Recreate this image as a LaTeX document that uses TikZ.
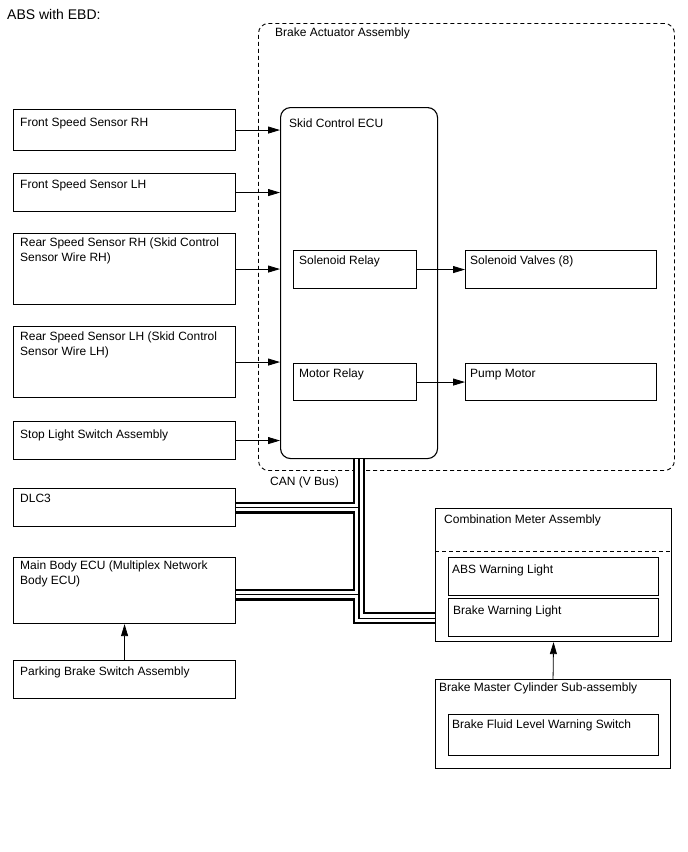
\documentclass[tikz,border=0pt]{standalone}
\usepackage{fontspec}
\setmainfont{Liberation Sans}
\usetikzlibrary{arrows.meta,positioning,calc}

\begin{document}
\begin{tikzpicture}[x=1pt, y=-1pt, every node/.style={font=\fontsize{12}{15}\selectfont},
  blk/.style={draw, line width=1.1pt, anchor=north west, inner sep=0pt},
  txt/.style={anchor=north west, inner sep=0pt, align=left},
  sig/.style={line width=0.8pt, -{Triangle[length=12pt,width=7pt]}},
  busout/.style={line width=12pt, line join=miter},
  buswhite/.style={line width=7.5pt, white, line join=miter},
  buscore/.style={line width=1.2pt, line join=miter}]
  \useasboundingbox (0,0) rectangle (688,852);

  \node[txt, font=\fontsize{14}{16}\selectfont] (title) at (7,9) {ABS with EBD:};

  % actuator assembly
  \node[blk, line width=0.9pt, dash pattern=on 4pt off 3pt, rounded corners=10pt,
        minimum width=416pt, minimum height=447pt,
        label={[txt,xshift=17pt,yshift=-5pt]north west:Brake Actuator Assembly}] (act) at (258,23) {};
  \node[blk, rounded corners=10pt, minimum width=157pt, minimum height=351pt,
        label={[txt,xshift=9pt,yshift=-12pt]north west:Skid Control ECU}] (ecu) at (280,107) {};
  \node[blk, minimum width=123pt, minimum height=38pt,
        label={[txt,xshift=6pt,yshift=-6pt]north west:Solenoid Relay}] (srl) at (293,250) {};
  \node[blk, minimum width=123pt, minimum height=37pt,
        label={[txt,xshift=6pt,yshift=-6pt]north west:Motor Relay}] (mrl) at (293,363) {};
  \node[blk, minimum width=191pt, minimum height=38pt,
        label={[txt,xshift=5pt,yshift=-6pt]north west:Solenoid Valves (8)}] (sv) at (465,250) {};
  \node[blk, minimum width=191pt, minimum height=37pt,
        label={[txt,xshift=5pt,yshift=-6pt]north west:Pump Motor}] (pm) at (465,363) {};

  % inputs
  \node[blk, minimum width=222pt, minimum height=41pt,
        label={[txt,xshift=7pt,yshift=-9pt]north west:Front Speed Sensor RH}] (frs) at (13,109) {};
  \node[blk, minimum width=222pt, minimum height=38pt,
        label={[txt,xshift=7pt,yshift=-7pt]north west:Front Speed Sensor LH}] (fls) at (13,173) {};
  \node[blk, minimum width=222pt, minimum height=71pt,
        label={[txt,xshift=7pt,yshift=-5pt]north west:Rear Speed Sensor RH (Skid Control\\Sensor Wire RH)}] (rrs) at (13,233) {};
  \node[blk, minimum width=222pt, minimum height=71pt,
        label={[txt,xshift=7pt,yshift=-6pt]north west:Rear Speed Sensor LH (Skid Control\\Sensor Wire LH)}] (rls) at (13,326) {};
  \node[blk, minimum width=222pt, minimum height=38pt,
        label={[txt,xshift=7pt,yshift=-9pt]north west:Stop Light Switch Assembly}] (stp) at (13,421) {};
  \node[blk, minimum width=222pt, minimum height=38pt,
        label={[txt,xshift=7pt,yshift=-6pt]north west:DLC3}] (dlc) at (13,488) {};
  \node[blk, minimum width=222pt, minimum height=66pt,
        label={[txt,xshift=7pt,yshift=-4pt]north west:Main Body ECU (Multiplex Network\\Body ECU)}] (mbe) at (13,557) {};
  \node[blk, minimum width=222pt, minimum height=38pt,
        label={[txt,xshift=7pt,yshift=-7pt]north west:Parking Brake Switch Assembly}] (pbs) at (13,660) {};

  % meter and master cylinder
  \node[blk, minimum width=236pt, minimum height=133pt,
        label={[txt,xshift=9pt,yshift=-7pt]north west:Combination Meter Assembly}] (cma) at (435,508) {};
  \node[blk, minimum width=210pt, minimum height=38pt,
        label={[txt,xshift=4pt,yshift=-8pt]north west:ABS Warning Light}] (abs) at (448,557) {};
  \node[blk, minimum width=210pt, minimum height=38pt,
        label={[txt,xshift=5pt,yshift=-8pt]north west:Brake Warning Light}] (bwl) at (448,598) {};
  \node[blk, minimum width=235pt, minimum height=89pt,
        label={[txt,xshift=4pt,yshift=-4pt]north west:Brake Master Cylinder Sub-assembly}] (bmc) at (435,679) {};
  \node[blk, minimum width=210pt, minimum height=41pt,
        label={[txt,xshift=4pt,yshift=-6pt]north west:Brake Fluid Level Warning Switch}] (bfl) at (448,714) {};
  \draw[line width=0.9pt, dash pattern=on 4pt off 3pt]
    ($(cma.north west)+(0,43)$) -- ($(cma.north east)+(0,43)$);

  % CAN bus
  \coordinate (canbend) at ($(ecu.south)+(0,159)$);
  \coordinate (mbebus) at ([yshift=-4pt]mbe.east);
  \foreach \st in {busout,buswhite,buscore}
    \draw[\st] (ecu.south) -- (canbend) -- (canbend -| cma.west)
               (dlc.east) -- (dlc.east -| ecu.south)
               (mbebus) -- (mbebus -| ecu.south);
  \node[txt] (canlbl) at (270,476.5) {CAN (V Bus)};

  % signal lines
  \foreach \n in {frs,fls,rrs,rls,stp}
    \draw[sig] (\n.east) -- (\n.east -| ecu.west);
  \draw[sig] (srl.east) -- (sv.west);
  \draw[sig] (mrl.east) -- (pm.west);
  \draw[sig] (pbs.north) -- (mbe.south);
  \draw[sig] (bmc.north) -- (cma.south);
\end{tikzpicture}
\end{document}
